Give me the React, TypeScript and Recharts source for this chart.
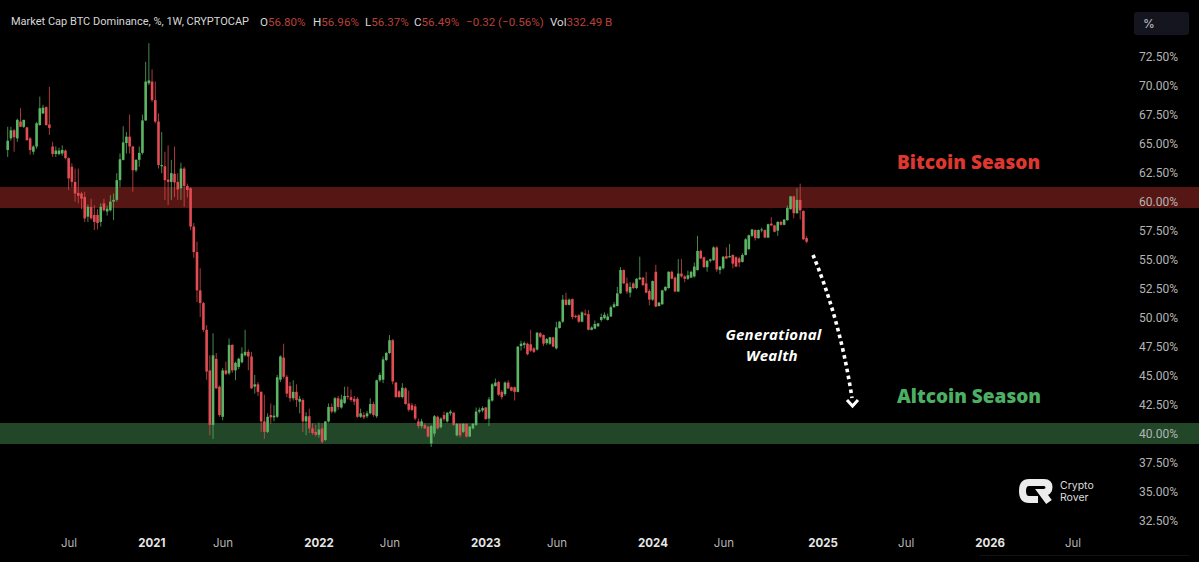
import { Bar, ComposedChart, ReferenceArea, XAxis, YAxis } from "recharts";

// weekly candles left to right
const opens = [
  64.4, 65.4, 66.1, 65.4, 66.85, 66.4, 66.35, 65.4, 64.25, 64.7,
  66.55, 67.55, 68.1, 66.6, 64.7, 64.05, 64.05, 64.1, 64.35, 63.7,
  62.95, 61.65, 60.7, 60.65, 60.35, 58.65, 59.5, 58.8, 58.8, 58.2,
  59.8, 59.1, 59.2, 59.95, 60.1, 61.8, 63.55, 65.0, 65.55, 64.7,
  62.65, 63.55, 64.15, 66.95, 70.15, 70.3, 68.7, 66.85, 63.0, 63.0,
  61.85, 61.65, 62.35, 61.65, 61.1, 62.8, 61.3, 61.1,
  57.8, 55.6, 52.3, 51.2, 48.9, 45.4, 40.7, 46.4, 44.0, 41.4,
  45.4, 45.15, 47.6, 45.4, 45.7, 46.1, 46.7, 47.0, 46.6, 44.0,
  44.2, 43.55, 41.0, 40.1, 41.55, 41.35, 41.4, 44.6, 46.5, 44.85,
  44.05, 43.0, 43.55, 42.7, 42.85, 41.0, 41.45, 40.4, 40.1, 39.85,
  40.4, 39.4, 41.0, 42.25, 41.85, 43.0, 42.2, 42.6, 43.2, 43.1,
  42.95, 42.95, 41.4, 41.55, 41.45, 41.7, 42.5, 41.45, 44.55, 44.6,
  46.3, 46.9, 48.0,
  44.35, 43.6, 43.1, 43.85, 42.55, 42.4, 42.3, 41.0, 40.6, 40.7,
  40.55, 39.1, 39.95, 41.4, 40.5, 41.55, 41.0, 41.7, 41.75, 39.8,
  40.8, 40.1, 40.8, 39.7, 40.4, 40.7, 41.85, 41.95, 42.2, 41.25,
  42.8, 44.05, 44.4, 43.55, 43.35, 44.35, 43.95, 43.95, 43.55, 47.5,
  47.6, 47.7, 47.65, 47.3, 47.2, 48.6, 48.45, 47.75, 47.7, 48.25,
  47.3, 49.05, 49.6, 51.5, 51.05, 51.55, 50.1, 50.15, 49.6, 50.3,
  50.25, 48.9, 49.0, 49.2,
  49.75, 49.9, 49.75, 50.05, 50.85, 50.95, 52.04, 54.05, 52.9, 52.1,
  52.9, 52.5, 53.25, 53.4, 52.9, 52.25, 51.5, 53.9, 50.95, 51.1,
  52.3, 52.5, 53.9, 53.4, 52.2, 53.75, 53.5, 53.3, 53.4, 53.5,
  54.05, 55.7, 55.15, 54.3, 54.85, 54.9, 56.0, 54.05, 54.2, 55.25,
  55.15, 55.35, 55.15, 55.05, 54.75, 55.35, 55.85, 57.0, 57.5, 56.8,
  57.5, 57.5, 56.85, 58.05, 57.9, 57.45, 58.2, 57.95, 58.35, 59.3,
  60.4, 58.95, 60.1, 59.15, 56.8,
];

const highs = [
  66.4, 66.4, 66.2, 67.1, 68.0, 67.0, 66.4, 65.5, 64.8, 66.8,
  69.0, 68.3, 68.15, 69.85, 65.1, 64.7, 64.6, 64.8, 64.45, 63.75,
  63.25, 62.8, 62.8, 60.8, 60.8, 59.7, 60.2, 59.65, 59.3, 59.8,
  60.2, 59.6, 60.5, 60.65, 62.4, 64.1, 66.45, 65.95, 67.45, 64.75,
  63.6, 64.7, 67.45, 72.0, 73.6, 71.35, 70.3, 67.55, 65.95, 64.25,
  64.8, 63.55, 64.7, 62.4, 63.3, 62.95, 61.5, 61.2,
  58.1, 56.5, 54.2, 51.3, 49.3, 46.7, 48.6, 46.9, 44.1, 45.6,
  46.15, 48.15, 47.65, 46.15, 46.5, 47.4, 48.9, 47.2, 47.0, 45.0,
  44.4, 43.6, 43.3, 41.7, 42.55, 42.4, 45.0, 46.7, 47.7, 45.0,
  44.4, 44.55, 44.2, 43.2, 43.0, 41.8, 42.1, 40.85, 40.7, 40.9,
  40.85, 41.0, 42.55, 42.55, 43.1, 43.2, 43.3, 44.0, 44.0, 43.75,
  43.2, 43.1, 42.1, 41.8, 41.9, 43.0, 42.7, 44.6, 45.2, 46.6,
  47.0, 48.45, 48.1,
  44.4, 43.7, 44.3, 43.95, 43.65, 42.6, 42.5, 41.25, 41.2, 40.85,
  40.6, 40.7, 41.55, 41.5, 41.35, 41.85, 41.8, 42.0, 41.8, 40.85,
  40.85, 40.85, 40.85, 40.6, 40.85, 42.2, 42.2, 42.3, 42.25, 43.1,
  44.3, 44.7, 44.5, 43.7, 44.45, 44.55, 44.0, 44.0, 47.5, 47.95,
  47.9, 47.8, 48.9, 47.4, 48.7, 48.7, 48.5, 48.2, 48.3, 48.3,
  49.6, 49.65, 51.9, 52.1, 51.6, 51.6, 50.2, 50.25, 50.5, 50.65,
  50.6, 49.2, 49.7, 49.5,
  50.3, 50.4, 50.3, 51.0, 51.3, 52.6, 54.3, 54.1, 53.4, 53.0,
  53.0, 53.35, 55.2, 53.45, 53.9, 52.4, 53.15, 54.5, 51.3, 52.35,
  52.65, 53.95, 54.0, 53.5, 55.0, 55.0, 53.6, 54.0, 54.0, 54.7,
  57.0, 55.8, 55.2, 54.9, 55.05, 56.1, 56.1, 54.4, 55.25, 56.0,
  56.3, 55.4, 55.25, 55.2, 55.5, 56.8, 57.1, 57.6, 57.55, 57.55,
  57.7, 57.55, 58.05, 58.6, 57.95, 58.25, 58.3, 58.45, 59.6, 60.45,
  60.45, 61.1, 61.5, 59.2, 56.96,
];

const lows = [
  63.8, 65.2, 64.25, 65.1, 66.4, 66.3, 65.2, 64.0, 64.0, 64.5,
  66.5, 67.5, 66.5, 65.7, 63.8, 63.8, 63.95, 63.9, 63.6, 60.95,
  61.2, 59.95, 59.8, 59.3, 58.2, 58.2, 58.4, 57.5, 57.55, 57.8,
  59.1, 58.75, 59.1, 58.35, 59.95, 61.2, 63.5, 64.1, 64.1, 60.8,
  62.5, 62.95, 64.0, 66.9, 70.0, 68.55, 66.7, 62.8, 62.4, 60.1,
  59.65, 60.1, 60.35, 60.1, 60.1, 59.5, 60.3, 57.5,
  55.1, 51.3, 50.0, 48.7, 44.6, 39.8, 39.5, 43.8, 41.4, 41.1,
  45.0, 45.0, 45.2, 44.55, 45.5, 46.0, 46.6, 45.4, 43.8, 43.4,
  43.2, 40.1, 39.5, 40.0, 40.8, 41.0, 41.3, 44.4, 44.7, 43.1,
  42.7, 42.8, 42.25, 41.7, 40.1, 39.8, 40.0, 39.85, 39.7, 39.6,
  39.1, 39.3, 40.9, 41.7, 41.7, 42.0, 42.1, 42.5, 42.9, 42.7,
  42.4, 41.3, 41.3, 41.2, 41.3, 41.6, 41.4, 41.3, 44.4, 44.3,
  46.2, 46.8, 44.2,
  43.05, 43.05, 43.0, 42.45, 41.85, 41.9, 41.1, 40.4, 40.4, 40.35,
  39.6, 38.8, 39.7, 40.3, 40.4, 41.0, 40.9, 41.5, 40.6, 39.7,
  39.6, 40.0, 39.6, 39.65, 40.3, 40.6, 41.7, 41.8, 41.15, 40.6,
  42.7, 44.0, 43.2, 42.9, 43.2, 43.8, 43.6, 42.8, 43.5, 47.1,
  47.3, 46.7, 47.0, 46.9, 47.1, 48.2, 47.5, 47.6, 47.6, 47.4,
  47.2, 49.0, 49.5, 51.0, 51.0, 49.8, 49.9, 49.5, 49.55, 50.1,
  48.85, 48.85, 48.95, 49.15,
  49.6, 49.8, 49.7, 50.0, 50.8, 50.9, 52.0, 52.85, 52.0, 51.7,
  52.4, 52.4, 53.2, 52.7, 52.05, 51.0, 51.4, 50.85, 50.9, 51.05,
  52.2, 52.45, 53.25, 52.15, 52.15, 53.4, 53.0, 53.2, 53.35, 53.4,
  54.0, 55.0, 54.25, 53.9, 54.7, 54.85, 53.9, 53.7, 54.1, 55.0,
  55.1, 54.2, 54.3, 54.3, 54.7, 55.3, 55.8, 56.9, 56.6, 56.75,
  57.3, 56.8, 56.8, 57.85, 57.3, 57.0, 57.9, 57.9, 58.3, 59.25,
  58.5, 58.9, 58.4, 56.65, 56.37,
];

const closes = [
  65.2, 66.1, 65.5, 67.0, 66.4, 67.0, 65.25, 64.4, 64.7, 66.7,
  68.0, 68.05, 66.55, 66.3, 64.05, 64.35, 64.35, 64.4, 63.7, 61.95,
  61.65, 60.65, 60.45, 60.2, 58.5, 59.5, 58.5, 58.2, 58.1, 59.5,
  59.2, 59.35, 59.95, 60.1, 61.8, 63.6, 65.05, 65.55, 64.7, 62.65,
  63.55, 64.15, 66.95, 70.3, 70.4, 68.7, 66.85, 63.1, 63.1, 61.8,
  61.65, 62.4, 61.6, 61.0, 62.8, 61.3, 60.95, 57.8,
  55.6, 52.3, 51.2, 48.9, 45.3, 40.7, 46.7, 43.85, 41.55, 45.4,
  45.1, 47.6, 45.4, 46.05, 46.4, 46.85, 47.0, 46.6, 43.85, 44.2,
  43.55, 41.0, 40.1, 41.4, 41.35, 41.5, 44.8, 46.6, 44.85, 43.4,
  43.0, 43.55, 42.85, 42.95, 41.0, 41.45, 40.4, 40.0, 39.85, 40.3,
  39.25, 41.0, 42.25, 41.85, 43.0, 42.25, 42.9, 43.2, 43.1, 42.85,
  42.7, 41.4, 41.7, 41.35, 41.7, 42.5, 41.55, 44.55, 45.0, 46.35,
  46.9, 48.0, 44.45,
  43.1, 43.1, 43.9, 42.5, 42.0, 42.0, 41.25, 40.6, 41.0, 40.4,
  39.7, 40.6, 41.45, 40.4, 41.25, 41.2, 41.75, 41.85, 40.7, 40.8,
  39.8, 40.8, 39.7, 40.55, 40.8, 41.85, 42.0, 42.15, 41.2, 42.9,
  44.2, 44.35, 43.3, 43.1, 44.35, 43.85, 43.65, 43.55, 47.45, 47.7,
  47.75, 46.8, 47.1, 47.0, 48.65, 48.3, 47.7, 48.1, 48.25, 47.45,
  49.1, 49.6, 51.5, 51.05, 51.5, 50.0, 50.0, 49.6, 50.4, 50.2,
  48.9, 49.1, 49.4, 49.45,
  50.0, 50.2, 50.05, 50.85, 51.1, 52.04, 54.05, 52.9, 52.2, 52.6,
  52.5, 53.3, 53.4, 52.75, 52.1, 51.5, 53.1, 50.9, 51.25, 52.3,
  52.6, 53.9, 53.3, 52.2, 53.75, 53.5, 53.3, 53.6, 53.9, 54.35,
  55.7, 55.05, 54.3, 54.85, 54.97, 56.0, 54.1, 54.35, 55.2, 55.05,
  55.25, 54.6, 54.35, 54.7, 55.35, 56.7, 57.05, 57.55, 56.8, 57.5,
  57.55, 56.85, 58.0, 57.9, 57.35, 58.2, 57.95, 58.4, 59.4, 60.4,
  58.95, 60.1, 59.2, 56.7, 56.49,
];

const priceTicks = [72.5, 70, 67.5, 65, 62.5, 60, 57.5, 55, 52.5, 50, 47.5, 45, 42.5, 40, 37.5, 35, 32.5];
const timeTicks = [19.07, 44.9, 67.1, 97, 119.1, 149, 171.2, 201.1, 223.2, 254.1, 280, 306.2, 332];
const timeLabels = ["Jul", "2021", "Jun", "2022", "Jun", "2023", "Jun", "2024", "Jun", "2025", "Jul", "2026", "Jul"];
const bitcoinZone = [59.4, 61.2];
const altcoinZone = [39.05, 40.86];

const rows = closes.map((close, i) => ({
  week: i,
  open: opens[i],
  high: highs[i],
  low: lows[i],
  close,
  range: [lows[i], highs[i]],
}));

function Candle(props: any) {
  const { x, y, width, height, payload } = props;
  const unit = height / (payload.high - payload.low);
  const yOf = (v: number) => y + (payload.high - v) * unit;
  const up = payload.close >= payload.open;
  const color = up ? "#5cb565" : "#e24c52";
  const cx = x + width / 2;
  const top = yOf(Math.max(payload.open, payload.close));
  const bottom = yOf(Math.min(payload.open, payload.close));
  return (
    <g>
      <line x1={cx} x2={cx} y1={y} y2={y + height} stroke={color} strokeWidth={1} strokeOpacity={0.75} />
      <rect x={cx - 1.3} y={top} width={2.6} height={Math.max(bottom - top, 1)} fill={color} />
    </g>
  );
}

function PriceTick({ y, payload }: any) {
  return (
    <text x={1139} y={y + 5} fill="#b4b4b4" fontSize={12} fontFamily="Roboto, sans-serif" textAnchor="start">
      {payload.value.toFixed(2)}%
    </text>
  );
}

function TimeTick({ x, y, payload }: any) {
  const label = timeLabels[timeTicks.indexOf(payload.value)];
  const isYear = label.length === 4;
  return (
    <text
      x={x}
      y={y + 12}
      fill={isYear ? "#e6e6e6" : "#b4b4b4"}
      fontSize={11.5}
      fontWeight={isYear ? 700 : 400}
      fontFamily="Inter, sans-serif"
      textAnchor="middle"
    >
      {label}
    </text>
  );
}

const legendFont = { position: "absolute", top: 15, fontFamily: "Roboto, sans-serif", fontSize: 11.6, whiteSpace: "nowrap" } as const;
const legendWhite = "#d8d8d8";
const legendRed = "#b8403c";
const legendParts = [
  { left: 260, key: "O", value: "56.80%" },
  { left: 313, key: "H", value: "56.96%" },
  { left: 365, key: "L", value: "56.37%" },
  { left: 414, key: "C", value: "56.49%" },
  { left: 550, key: "Vol", value: "332.49 B" },
];

export default function App() {
  const step = (806.7 - 7.8) / (rows.length - 1);
  return (
    <div style={{ position: "absolute", left: 0, top: 0, width: 1199, height: 562, background: "#000", overflow: "hidden" }}>
      <ComposedChart width={1199} height={562} data={rows} margin={{ top: 0, right: 0, bottom: 0, left: 0 }}>
        <XAxis
          type="number"
          dataKey="week"
          domain={[-7.8 / step, (1199 - 7.8) / step]}
          allowDataOverflow
          ticks={timeTicks}
          interval={0}
          height={35}
          axisLine={false}
          tickLine={false}
          tick={<TimeTick />}
        />
        <YAxis
          orientation="right"
          mirror
          width={60}
          domain={[31.9, 77.33]}
          allowDataOverflow
          ticks={priceTicks}
          interval={0}
          axisLine={false}
          tickLine={false}
          tick={<PriceTick />}
        />
        <Bar dataKey="range" barSize={3} shape={<Candle />} isAnimationActive={false} />
        <ReferenceArea y1={bitcoinZone[0]} y2={bitcoinZone[1]} fill="#c8332b" fillOpacity={0.43} stroke="none" />
        <ReferenceArea y1={altcoinZone[0]} y2={altcoinZone[1]} fill="#4ba05a" fillOpacity={0.44} stroke="none" />
      </ComposedChart>

      <div style={{ ...legendFont, left: 11, color: legendWhite, fontSize: 11 }}>Market Cap BTC Dominance, %, 1W, CRYPTOCAP</div>
      {legendParts.map((p) => (
        <div key={p.key} style={{ ...legendFont, left: p.left, color: legendWhite }}>
          {p.key}
          <span style={{ color: legendRed }}>{p.value}</span>
        </div>
      ))}
      <div style={{ ...legendFont, left: 466, color: legendRed }}>−0.32 (−0.56%)</div>

      <div
        style={{
          position: "absolute",
          left: 1134,
          top: 12,
          width: 55,
          height: 23,
          boxSizing: "border-box",
          paddingLeft: 9,
          lineHeight: "23px",
          background: "#14151f",
          borderRadius: 3,
          color: "#c8c8d0",
          fontFamily: "Inter, sans-serif",
          fontSize: 12,
        }}
      >
        %
      </div>

      <div style={{ position: "absolute", left: 980, top: 555, width: 209, height: 1, background: "#121214" }} />

      <svg width={1199} height={562} style={{ position: "absolute", left: 0, top: 0, pointerEvents: "none" }}>
        <text x={897} y={169} fill="#dd372f" fontSize={19} fontWeight={800} fontFamily="'Open Sans', sans-serif">
          Bitcoin Season
        </text>
        <text x={897} y={403} fill="#4caf64" fontSize={19} fontWeight={800} fontFamily="'Open Sans', sans-serif">
          Altcoin Season
        </text>
        <text x={773.5} y={340} fill="#fff" fontSize={15} fontWeight={700} fontStyle="italic" textAnchor="middle" letterSpacing={0.25} fontFamily="'Open Sans', sans-serif">
          Generational
        </text>
        <text x={772} y={361} fill="#fff" fontSize={15} fontWeight={700} fontStyle="italic" textAnchor="middle" letterSpacing={0.25} fontFamily="'Open Sans', sans-serif">
          Wealth
        </text>
        <path d="M813 255 Q 840 320 852 398" fill="none" stroke="#fff" strokeWidth={3.6} strokeDasharray="3.6 3.4" />
        <path d="M847 400 L852.5 406 L858 400" fill="none" stroke="#fff" strokeWidth={3} />
        <g fill="none" stroke="#ececec" strokeWidth={7}>
          <path d="M1038 482.5 H1029 Q1022.5 482.5 1022.5 491 Q1022.5 499.5 1029 499.5 H1038" />
          <path d="M1036 482.5 H1044 Q1049 482.5 1049 487.5 Q1049 492.5 1042 492.5 L1049 502" />
        </g>
        <text x={1060} y={489} fill="#dcdcdc" fontSize={10.5} fontFamily="Inter, sans-serif">Crypto</text>
        <text x={1060} y={501} fill="#dcdcdc" fontSize={10.5} fontFamily="Inter, sans-serif">Rover</text>
      </svg>
    </div>
  );
}
